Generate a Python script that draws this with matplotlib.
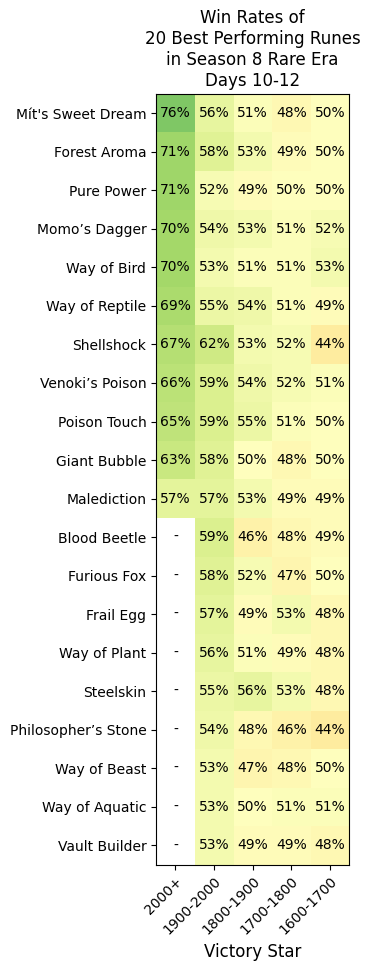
import matplotlib
matplotlib.use("Agg")
import matplotlib.pyplot as plt
import numpy as np

# rune names (rows) and star brackets (columns)
runes = ["Mít's Sweet Dream", "Forest Aroma", "Pure Power", "Momo’s Dagger",
         "Way of Bird", "Way of Reptile", "Shellshock", "Venoki’s Poison",
         "Poison Touch", "Giant Bubble", "Malediction", "Blood Beetle",
         "Furious Fox", "Frail Egg", "Way of Plant", "Steelskin",
         "Philosopher’s Stone", "Way of Beast", "Way of Aquatic", "Vault Builder"]
stars = ["2000+", "1900-2000", "1800-1900", "1700-1800", "1600-1700"]

# win rates in %, nan = no data
r2000 = [76, 71, 71, 70, 70, 69, 67, 66, 65, 63, 57,
         np.nan, np.nan, np.nan, np.nan, np.nan, np.nan, np.nan, np.nan, np.nan]
r1900 = [56, 58, 52, 54, 53, 55, 62, 59, 59, 58, 57, 59, 58, 57, 56, 55, 54, 53, 53, 53]
r1800 = [51, 53, 49, 53, 51, 54, 53, 54, 55, 50, 53, 46, 52, 49, 51, 56, 48, 47, 50, 49]
r1700 = [48, 49, 50, 51, 51, 51, 52, 52, 51, 48, 49, 48, 47, 53, 49, 53, 46, 48, 51, 49]
r1600 = [50, 50, 50, 52, 53, 49, 44, 51, 50, 50, 49, 49, 50, 48, 48, 48, 44, 50, 51, 48]

rates = np.array([r2000, r1900, r1800, r1700, r1600]).T / 100.0

fig = plt.figure(figsize=(3.7, 9.71), dpi=100)
ax = fig.add_axes([0.4216, 0.1095, 0.5224, 0.7937])

cmap = plt.get_cmap("RdYlGn").copy()
cmap.set_bad("white")
ax.imshow(np.ma.masked_invalid(rates), cmap=cmap, vmin=0, vmax=1, aspect="auto")

for i in range(rates.shape[0]):
    for j in range(rates.shape[1]):
        v = rates[i, j]
        txt = "-" if np.isnan(v) else f"{v:.0%}"
        ax.text(j, i, txt, ha="center", va="center", color="black", fontsize=10)

ax.set_xticks(range(len(stars)))
ax.set_xticklabels(stars, rotation=45, ha="right", rotation_mode="anchor")
ax.set_yticks(range(len(runes)))
ax.set_yticklabels(runes)
ax.set_xlabel("Victory Star", fontsize=12)
ax.set_title("Win Rates of\n20 Best Performing Runes\nin Season 8 Rare Era\nDays 10-12",
             fontsize=12)

fig.savefig("out.png", dpi=100)
